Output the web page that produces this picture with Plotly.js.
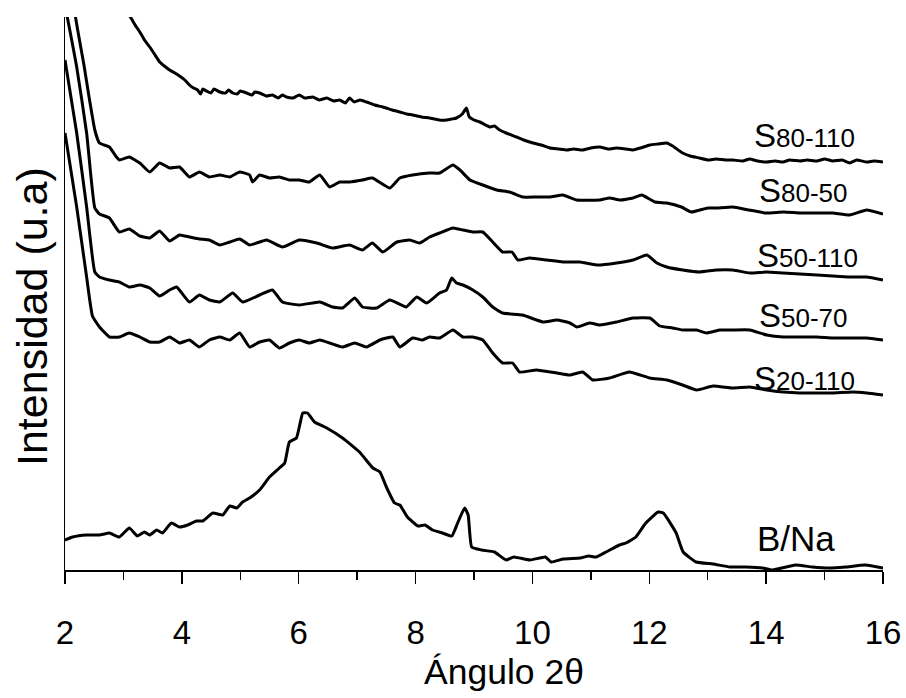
<!DOCTYPE html>
<html>
<head>
<meta charset="utf-8">
<script src="https://cdn.plot.ly/plotly-3.0.1.min.js"></script>
<style>html,body{margin:0;padding:0;background:#fff;}#chart{width:906px;height:698px;}</style>
</head>
<body>
<div id="chart"></div>
<script>
// 2θ (degrees) and intensity (a.u., stacked offsets as in the figure)
var x_S80_110 = [3.05,3.12,3.2,3.28,3.36,3.45,3.53,3.62,3.7,3.79,3.88,3.96,4.05,4.13,4.2,4.27,4.32,4.36,4.42,4.5,4.55,4.65,4.75,4.8,4.87,4.95,5.0,5.11,5.2,5.25,5.33,5.45,5.55,5.65,5.72,5.79,5.9,6.01,6.1,6.24,6.35,6.48,6.6,6.7,6.8,6.87,6.95,7.05,7.16,7.3,7.44,7.6,7.73,7.85,7.95,8.1,8.24,8.4,8.53,8.62,8.7,8.8,8.87,8.92,9.0,9.1,9.2,9.27,9.35,9.44,9.55,9.73,9.85,10.01,10.15,10.3,10.45,10.59,10.7,10.86,11.0,11.15,11.3,11.44,11.6,11.72,11.85,12.01,12.15,12.3,12.4,12.57,12.7,12.86,13.0,13.15,13.3,13.43,13.6,13.72,13.85,14.01,14.15,14.29,14.4,14.58,14.7,14.87,15.0,15.14,15.3,15.43,15.55,15.72,15.85,16.0];
var y_S80_110 = [560,553,545,538,530,523,516,508,504,500,497,494,490,485,482,480,476,481,479,477,481,478,477,480,477,476,479,477,475,478,477,474,475,472,475,473,472,475,472,473,470,472,469,470,467,472,468,470,468,465,463,460,458,456,455,453,452,450,450,451,452,456,462,453,450,448,445,443,444,440,437,433,430,427,425,422,421,420,421,420,422,423,421,422,421,420,422,425,426,427,424,417,414,412,410,411,410,410,409,411,409,408,409,408,410,409,410,409,411,409,410,407,410,408,409,408];

var x_S80_50 = [2.1,2.18,2.33,2.42,2.51,2.59,2.76,2.88,2.93,3.1,3.28,3.45,3.62,3.79,3.96,4.13,4.3,4.47,4.65,4.82,4.99,5.16,5.21,5.33,5.5,5.67,5.84,6.01,6.18,6.36,6.53,6.7,6.87,7.09,7.26,7.56,7.73,7.95,8.24,8.41,8.64,8.76,8.93,9.15,9.39,9.61,9.83,10.07,10.3,10.52,10.76,11.15,11.32,11.5,11.72,11.87,12.1,12.3,12.55,12.72,13.0,13.15,13.43,13.7,14.0,14.3,14.58,14.87,15.14,15.43,15.72,16.0];
var y_S80_50 = [600,553,503,470,440,427,423,413,410,413,407,398,407,402,403,393,398,393,395,393,398,395,388,395,392,393,390,390,388,395,383,388,388,390,392,382,392,395,397,397,405,400,390,385,380,378,373,373,373,375,370,370,372,370,372,375,368,367,363,358,362,362,363,360,357,358,357,357,357,355,360,356];

var x_S50_110 = [2.0,2.2,2.37,2.51,2.59,2.76,2.93,3.1,3.28,3.45,3.62,3.79,3.96,4.13,4.3,4.47,4.65,4.82,4.99,5.16,5.45,5.72,6.01,6.31,6.58,6.87,7.09,7.26,7.44,7.68,7.9,8.07,8.24,8.41,8.64,8.81,8.98,9.15,9.32,9.49,9.65,9.75,9.95,10.25,10.52,10.81,11.1,11.44,11.72,11.96,12.13,12.3,12.57,12.86,13.15,13.43,13.72,14.01,14.29,14.58,14.87,15.14,15.43,15.72,16.0];
var y_S50_110 = [565,503,437,362,356,352,338,341,334,332,339,329,335,333,331,330,325,328,331,325,330,323,330,327,322,325,320,327,318,328,330,327,333,337,342,340,338,338,328,318,318,310,312,310,308,308,305,307,310,315,307,303,300,298,300,300,297,298,297,296,295,294,293,293,290];

var x_S50_70 = [2.0,2.2,2.37,2.51,2.59,2.76,2.93,3.1,3.28,3.45,3.62,3.79,3.91,4.13,4.3,4.47,4.65,4.87,5.04,5.33,5.55,5.72,6.01,6.36,6.58,6.75,6.96,7.09,7.33,7.56,7.84,8.02,8.19,8.41,8.53,8.62,8.7,8.81,8.98,9.15,9.32,9.49,9.83,10.18,10.42,10.64,10.76,10.98,11.15,11.44,11.72,12.01,12.18,12.4,12.57,12.81,12.98,13.21,13.43,13.72,14.01,14.29,14.58,14.87,15.14,15.43,15.72,16.0];
var y_S50_70 = [510,437,363,298,293,290,288,283,285,282,274,280,283,268,275,270,268,277,268,275,280,268,265,268,263,262,272,263,262,270,263,273,267,277,280,292,287,285,280,273,263,257,255,248,250,247,243,247,245,248,252,252,244,242,240,240,237,240,240,240,235,233,233,233,232,232,232,230];

var x_S20_110 = [2.0,2.2,2.37,2.47,2.59,2.76,2.93,3.1,3.28,3.45,3.62,3.79,3.96,4.13,4.3,4.47,4.65,4.82,4.99,5.16,5.33,5.5,5.67,5.84,6.01,6.18,6.36,6.53,6.75,6.96,7.16,7.39,7.61,7.73,7.95,8.12,8.24,8.41,8.64,8.81,8.98,9.15,9.32,9.49,9.66,9.78,10.07,10.42,10.64,10.86,11.03,11.32,11.66,12.01,12.3,12.57,12.81,13.09,13.43,13.72,14.01,14.29,14.58,14.87,15.14,15.48,15.72,16.0];
var y_S20_110 = [437,363,293,254,243,233,233,237,233,228,228,233,227,230,223,230,233,230,237,223,228,230,222,227,230,227,230,227,223,227,223,230,233,223,232,230,233,232,240,233,233,230,217,207,207,198,200,197,195,198,190,192,198,192,190,185,180,184,182,183,180,178,177,177,177,178,177,175];

var x_BNa = [2.0,2.13,2.37,2.59,2.76,2.93,3.1,3.24,3.36,3.45,3.57,3.67,3.82,3.96,4.1,4.25,4.36,4.53,4.7,4.82,4.94,5.04,5.16,5.33,5.5,5.67,5.76,5.84,5.96,6.01,6.07,6.15,6.27,6.48,6.75,7.04,7.27,7.39,7.5,7.64,7.73,7.86,8.04,8.16,8.29,8.46,8.62,8.72,8.84,8.9,8.96,9.13,9.35,9.55,9.68,9.96,10.22,10.32,10.53,10.82,10.96,11.09,11.26,11.49,11.6,11.77,11.94,12.15,12.24,12.46,12.58,12.8,13.09,13.38,13.65,13.94,14.11,14.5,14.79,15.08,15.36,15.7,16.0];
var y_BNa = [30,33,35,35,37,33,42,34,38,35,40,37,47,43,45,49,49,57,55,64,62,68,72,80,93,102,107,128,132,143,157,157,148,142,132,118,102,98,83,67,65,53,44,45,40,37,34,47,62,55,23,20,18,10,13,10,13,8,11,12,14,13,18,25,27,33,47,58,57,37,18,8,6,3,3,2,0,5,3,2,3,5,2];

var seriesNames = ["S80-110","S80-50","S50-110","S50-70","S20-110","B/Na"];
var labelX = [13.76,13.84,13.81,13.84,13.76,13.81];
var labelY = [435,380,315,255,192,32];
var xTickVals = [2,4,6,8,10,12,14,16];
var xTitle = "Ángulo 2θ";
var yTitle = "Intensidad (u.a)";

var FONT = "Liberation Sans, Arial, sans-serif";
var xs = [x_S80_110, x_S80_50, x_S50_110, x_S50_70, x_S20_110, x_BNa];
var ys = [y_S80_110, y_S80_50, y_S50_110, y_S50_70, y_S20_110, y_BNa];

var traces = xs.map(function(xv, i){
  return {x: xv, y: ys[i], type: "scatter", mode: "lines", name: seriesNames[i],
          line: {color: "#000", width: 3, shape: "spline", smoothing: 0.4}, hoverinfo: "x+y+name"};
});

function labelText(n){
  if (n.charAt(0) === "S") {
    return "S<span style=\"font-size:26px\">" + n.slice(1) + "</span>";
  }
  return n;
}
var annotations = seriesNames.map(function(n, i){
  return {x: labelX[i], y: labelY[i], xref: "x", yref: "y", text: labelText(n),
          showarrow: false, xanchor: "left", yanchor: "middle",
          font: {family: FONT, size: n.charAt(0) === "S" ? 33 : 35, color: "#000"}};
});
// axis titles placed as annotations so they sit where the original has them
annotations.push({xref: "paper", yref: "paper", x: (504 - 65) / 818, y: -(672 - 570) / 553,
  text: xTitle, showarrow: false, xanchor: "center", yanchor: "middle",
  font: {family: FONT, size: 35.5, color: "#000"}});
annotations.push({xref: "paper", yref: "paper", x: -(65 - 32) / 818, y: (570 - 317) / 553,
  text: yTitle, textangle: -90, showarrow: false, xanchor: "center", yanchor: "middle",
  font: {family: FONT, size: 43, color: "#000"}});

var layout = {
  width: 906, height: 698,
  margin: {l: 65, r: 23, t: 17, b: 128, pad: 0},
  paper_bgcolor: "#fff", plot_bgcolor: "#fff",
  showlegend: false,
  font: {family: FONT, color: "#000"},
  xaxis: {
    range: [2, 16], tickvals: xTickVals, ticktext: xTickVals.map(String),
    ticks: "outside", ticklen: 12, tickwidth: 1.5, tickcolor: "#000",
    showline: true, linecolor: "#000", linewidth: 1.5,
    showgrid: false, zeroline: false,
    tickfont: {family: FONT, size: 33, color: "#000"},
    ticklabelstandoff: 21,
    minor: {dtick: 1, tick0: 1, ticks: "outside", ticklen: 8, tickwidth: 1.5, tickcolor: "#000", showgrid: false}
  },
  yaxis: {
    range: [0, 553], showline: true, linecolor: "#000", linewidth: 1.5,
    ticks: "", showticklabels: false, showgrid: false, zeroline: false
  },
  annotations: annotations
};

Plotly.newPlot("chart", traces, layout, {displayModeBar: false, staticPlot: true});
</script>
</body>
</html>
